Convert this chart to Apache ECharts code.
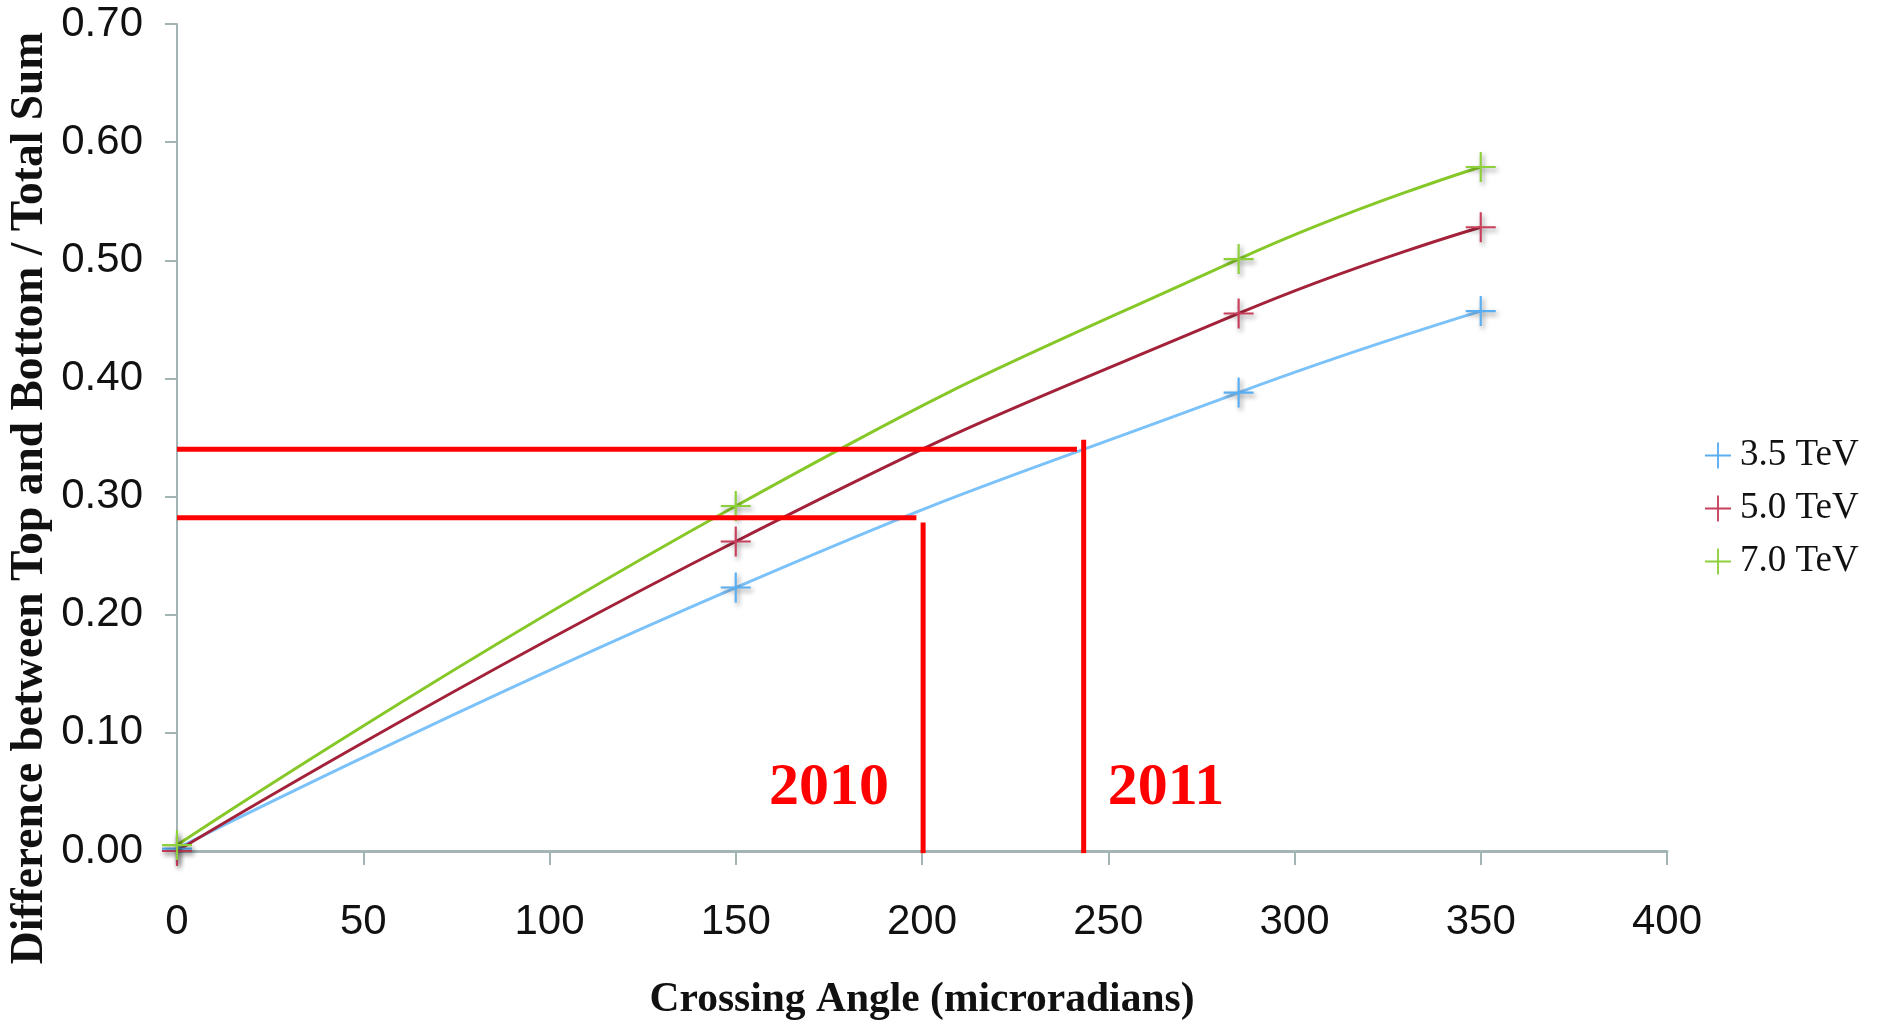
<!DOCTYPE html>
<html>
<head>
<meta charset="utf-8">
<style>
html,body{margin:0;padding:0;background:#fff;}
#chart{width:1878px;height:1026px;}
</style>
<script src="https://cdn.jsdelivr.net/npm/echarts@6/dist/echarts.min.js"></script>
</head>
<body>
<div id="chart"></div>
<script>
// ---- data ----
const angles = [0, 150, 285, 350];
const tev35 = [0.002, 0.223, 0.388, 0.457];
const tev50 = [0.000, 0.262, 0.455, 0.528];
const tev70 = [0.005, 0.292, 0.501, 0.579];
const seriesNames = ['3.5 TeV', '5.0 TeV', '7.0 TeV'];
const xTicks = [0, 50, 100, 150, 200, 250, 300, 350, 400];
const yTicks = [0.0, 0.1, 0.2, 0.3, 0.4, 0.5, 0.6, 0.7];
// reference annotations (year, level, crossing angle)
const refYears = ['2010', '2011'];
const refLevels = [0.282, 0.340];
const refAngles = [200.3, 243.4];
const refLabelAngles = [175, 265.5];
const refLabelLevel = 0.053;

const plus = 'path://M13,0h2v28h-2zM0,13h28v2h-28z';
const markerColors = ['#5aaef2', '#c8405c', '#8ed03c'];
const lineColors = ['#7cc2fa', '#a3223a', '#86c828'];
const valueSets = [tev35, tev50, tev70];

const chart = echarts.init(document.getElementById('chart'), null, {renderer: 'canvas'});

const series = [];
seriesNames.forEach((n, i) => {
  series.push({
    name: n,
    type: 'line',
    smooth: true,
    data: angles.map((a, j) => [a, valueSets[i][j]]),
    symbol: plus,
    symbolSize: 30,
    showAllSymbol: true,
    itemStyle: {color: markerColors[i], shadowBlur: 5, shadowColor: 'rgba(0,0,0,0.45)', shadowOffsetX: 2, shadowOffsetY: 3},
    lineStyle: {color: lineColors[i], width: 3},
    z: 3
  });
});

refYears.forEach((yr, k) => {
  series.push({
    name: 'h' + yr, type: 'line', silent: true, symbol: 'none',
    data: [[0, refLevels[k]], [refAngles[k] - 1.8, refLevels[k]]],
    lineStyle: {color: '#ff0000', width: 5}, z: 5
  });
  series.push({
    name: 'v' + yr, type: 'line', silent: true, symbol: 'none',
    data: [[refAngles[k], refLevels[k] + (k === 1 ? 0.008 : -0.004)], [refAngles[k], -0.002]],
    lineStyle: {color: '#ff0000', width: 5}, z: 5,
    markPoint: {
      symbol: 'circle', symbolSize: 1, silent: true,
      itemStyle: {color: 'rgba(0,0,0,0)'},
      label: {show: true, position: 'inside', formatter: '{b}', color: '#ff0000',
        fontFamily: 'Liberation Serif', fontWeight: 'bold', fontSize: 60},
      data: [{name: yr, coord: [refLabelAngles[k], refLabelLevel]}]
    }
  });
});

const axisColor = '#a3b4b4';
chart.setOption({
  animation: false,
  backgroundColor: '#ffffff',
  grid: {left: 177, right: 211, top: 24, bottom: 171, containLabel: false},
  legend: {
    orient: 'vertical', left: 1700, top: 432,
    itemWidth: 26, itemHeight: 30, itemGap: 16,
    data: seriesNames.map(n => ({name: n, icon: plus})),
    textStyle: {fontFamily: 'Liberation Serif', fontSize: 37, color: '#111', padding: [0, 0, 0, 4]}
  },
  xAxis: {
    type: 'value', min: 0, max: 400, interval: 50,
    name: 'Crossing Angle (microradians)', nameLocation: 'middle', nameGap: 128,
    nameTextStyle: {fontFamily: 'Liberation Serif', fontWeight: 'bold', fontSize: 41.5, color: '#111'},
    axisLine: {show: true, lineStyle: {color: axisColor, width: 3}},
    axisTick: {show: true, length: 14, lineStyle: {color: axisColor, width: 2}},
    axisLabel: {margin: 50, fontFamily: 'Liberation Sans Narrow, Liberation Sans', fontSize: 42, color: '#111',
      formatter: v => xTicks.includes(v) ? String(v) : ''},
    splitLine: {show: false}
  },
  yAxis: {
    type: 'value', min: 0, max: 0.7, interval: 0.1,
    axisLine: {show: true, lineStyle: {color: axisColor, width: 2}},
    axisTick: {show: true, length: 12, lineStyle: {color: axisColor, width: 2}},
    axisLabel: {margin: 34, fontFamily: 'Liberation Sans Narrow, Liberation Sans', fontSize: 42, color: '#111',
      formatter: v => yTicks.some(t => Math.abs(t - v) < 1e-9) ? v.toFixed(2) : ''},
    splitLine: {show: false}
  },
  graphic: [{
    type: 'text', rotation: Math.PI / 2,
    x: 30, y: 498,
    style: {text: 'Difference between Top and Bottom / Total Sum', fontFamily: 'Liberation Serif',
      fontWeight: 'bold', fontSize: 45.5, fill: '#111', textAlign: 'center', textVerticalAlign: 'middle'}
  }],
  series: series
});
</script>
</body>
</html>
